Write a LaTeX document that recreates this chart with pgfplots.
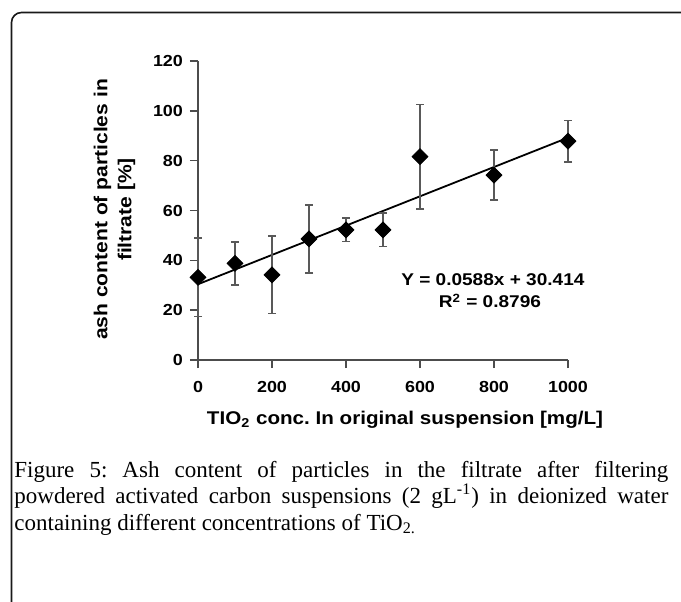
\documentclass[border=0pt]{standalone}
\usepackage{pgfplots}
\pgfplotsset{compat=1.18}
\usepackage{fontspec}
\setmainfont{Liberation Serif}
\newfontfamily\chartfont{Liberation Sans}[FakeStretch=1.12]
\begin{document}
\frenchspacing
\begin{tikzpicture}
\useasboundingbox (0,0) rectangle (340.5pt,300.5pt);
\draw[line width=0.8pt, rounded corners=5pt, black!90] (5.75pt,-10pt) -- (5.75pt,294.25pt) -- (360pt,294.25pt);
\begin{axis}[
  at={(99pt,120.5pt)}, anchor=south west,
  scale only axis, width=185pt, height=149.5pt,
  xmin=0, xmax=1000, ymin=0, ymax=120,
  axis x line=bottom, axis y line=left,
  axis line style={-, line width=1pt, black!70},
  xtick={0,200,...,1000}, ytick={0,20,...,120},
  tick align=outside, major tick length=4pt,
  tick style={line width=0.8pt, black!70},
  tick label style={font=\chartfont\bfseries\fontsize{8}{9.6}\selectfont},
  xticklabel style={yshift=-3pt},
  /pgf/number format/assume math mode=true,
  /pgf/number format/1000 sep={},
  clip=false,
]
\addplot[black, line width=0.9pt] coordinates {(0,30.414) (1000,89.214)};
\addplot[only marks, mark=square*, mark size=2.8pt,
  mark options={rotate=45, fill=black, draw=black},
  error bars/.cd, y dir=both, y explicit,
  error bar style={line width=0.8pt, black!65},
  error mark options={rotate=90, mark size=2pt, line width=0.8pt, black!65}]
  coordinates {
  (0,33.2) +- (0,15.8)
  (100,38.8) +- (0,8.6)
  (200,34.2) +- (0,15.6)
  (300,48.6) +- (0,13.7)
  (400,52.2) +- (0,4.7)
  (500,52.2) +- (0,6.7)
  (600,81.6) +- (0,21.0)
  (800,74.2) +- (0,10.0)
  (1000,87.8) +- (0,8.4)
  };
\node[font=\chartfont\bfseries\fontsize{8.5}{10}\selectfont] at (axis cs:797,32.1) {Y = 0.0588x + 30.414};
\node[font=\chartfont\bfseries\fontsize{8.5}{10}\selectfont] at (axis cs:789,23.7) {R\textsuperscript{2} = 0.8796};
\end{axis}
\node[rotate=90, align=center, font=\chartfont\bfseries\fontsize{9.4}{12}\selectfont] at (57.25pt,195.75pt) {ash content of particles in\\filtrate [\%]};
\node[font=\chartfont\bfseries\fontsize{9.2}{11}\selectfont] at (202.5pt,90.5pt) {TIO\textsubscript{2} conc. In original suspension [mg/L]};
\node[anchor=north west, text width=327pt, align=justify, inner sep=0pt, font=\fontsize{11.5}{13.25}\selectfont] at (7pt,70.25pt) {Figure 5: Ash content of particles in the filtrate after filtering\linebreak powdered activated carbon suspensions (2 gL\textsuperscript{-1}) in deionized water\linebreak containing different concentrations of TiO\textsubscript{2.}};
\end{tikzpicture}
\end{document}
